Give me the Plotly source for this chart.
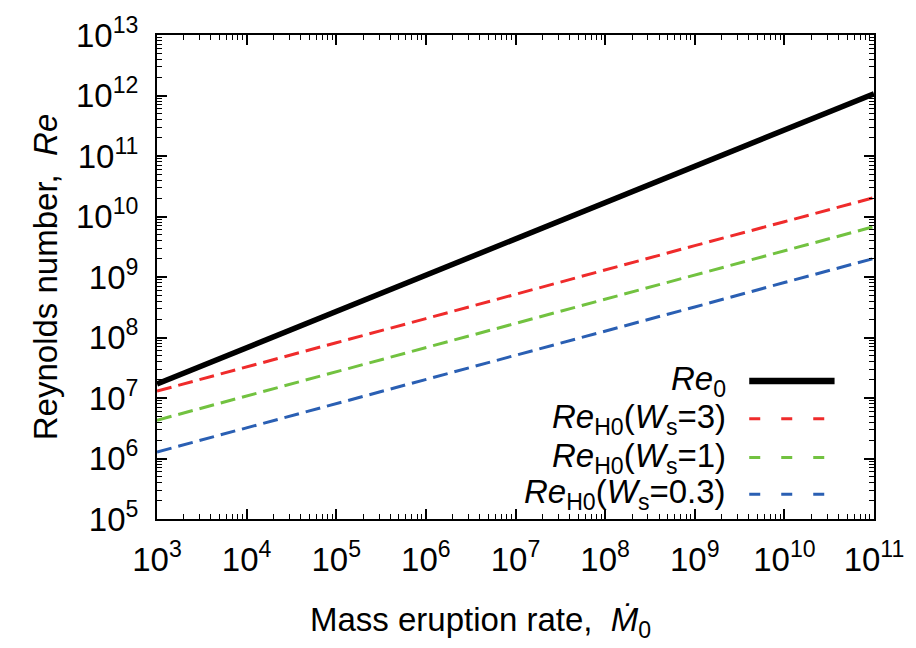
import numpy as np
import plotly.graph_objects as go

# ---- data ----
mass_rate = [1e3, 1e4, 1e5, 1e6, 1e7, 1e8, 1e9, 1e10, 1e11]
re0 = [1.7e7, 6.8e7, 2.7e8, 1.07e9, 4.3e9, 1.7e10, 6.8e10, 2.7e11, 1.07e12]
re_h0_ws3 = [1.3e7, 3.3e7, 8.2e7, 2.05e8, 5.2e8, 1.3e9, 3.3e9, 8.2e9, 2.05e10]
re_h0_ws1 = [4.3e6, 1.08e7, 2.7e7, 6.8e7, 1.7e8, 4.3e8, 1.08e9, 2.7e9, 6.8e9]
re_h0_ws03 = [1.28e6, 3.2e6, 8.1e6, 2.03e7, 5.1e7, 1.28e8, 3.2e8, 8.1e8, 2.03e9]

SUB = '<sub>{}</sub>'
series_names = ["<i>Re</i>" + SUB.format("0"),
                "<i>Re</i>" + SUB.format("H0") + "(<i>W</i>" + SUB.format("s") + "=3)",
                "<i>Re</i>" + SUB.format("H0") + "(<i>W</i>" + SUB.format("s") + "=1)",
                "<i>Re</i>" + SUB.format("H0") + "(<i>W</i>" + SUB.format("s") + "=0.3)"]
series_values = [re0, re_h0_ws3, re_h0_ws1, re_h0_ws03]
series_colors = ["#000000", "#ef2b2b", "#72c240", "#2a5fb3"]
series_widths = [5.5, 3, 3, 3]
series_dash = ["solid", "15px,7px", "15px,7px", "15px,7px"]

x_exps = list(range(3, 12))
y_exps = list(range(5, 14))
x_ticktext = [f"10<sup>{e}</sup>" for e in x_exps]
y_ticktext = [f"10<sup>{e}</sup>" for e in y_exps]

FONT = "Liberation Sans, Arial, sans-serif"

fig = go.Figure()
for name, vals, col, w, d in zip(series_names, series_values, series_colors, series_widths, series_dash):
    fig.add_trace(go.Scatter(x=mass_rate, y=vals, mode="lines", name=name,
                             line=dict(color=col, width=w, dash=d), showlegend=False))

# custom legend (text right-aligned, sample line on the right)
leg_y = [0.285, 0.207, 0.127, 0.051]
leg_dash = ["solid", "11px,21px", "11px,21px", "11px,21px"]
for name, col, w, d, yy in zip(series_names, series_colors, series_widths, leg_dash, leg_y):
    fig.add_annotation(x=0.796, y=yy, xref="paper", yref="paper", text=name,
                       showarrow=False, xanchor="right", yanchor="middle",
                       height=36, valign="middle",
                       font=dict(family=FONT, size=33, color="black"))
    fig.add_shape(type="line", xref="paper", yref="paper", x0=0.826, x1=0.945,
                  y0=yy, y1=yy, line=dict(color=col, width=w + (1 if w > 3 else 0), dash=d))

# x-axis title (placed as annotation to match reference offset)
fig.add_annotation(x=0.451, y=-0.213, xref="paper", yref="paper",
                   text="Mass eruption rate,  <i>Ṁ</i>" + SUB.format("0"),
                   showarrow=False, xanchor="center", yanchor="middle",
                   font=dict(family=FONT, size=33, color="black"))

minor_x = [k * 10 ** e for e in range(3, 11) for k in range(2, 10)]
minor_y = [k * 10 ** e for e in range(5, 13) for k in range(2, 10)]

axis_common = dict(type="log", showgrid=False, zeroline=False, showline=True,
                   linecolor="black", linewidth=2, mirror="allticks",
                   ticks="inside", ticklen=10, tickwidth=1.5, tickcolor="black",
                   tickmode="array", tickfont=dict(family=FONT, size=33, color="black"),
                   ticklabelstandoff=10)

fig.update_xaxes(**axis_common, range=[3, 11], tickvals=[10 ** e for e in x_exps],
                 ticktext=x_ticktext,
                 minor=dict(ticks="inside", ticklen=5, tickwidth=1, tickcolor="black",
                            tickmode="array", tickvals=minor_x))
fig.update_yaxes(**axis_common, range=[5, 13], tickvals=[10 ** e for e in y_exps],
                 ticktext=y_ticktext,
                 minor=dict(ticks="inside", ticklen=5, tickwidth=1, tickcolor="black",
                            tickmode="array", tickvals=minor_y),
                 title=dict(text="Reynolds number,  <i>Re</i>",
                            font=dict(family=FONT, size=33, color="black"), standoff=8))

fig.update_layout(width=916, height=648, margin=dict(l=157, r=36, t=31, b=129),
                  plot_bgcolor="white", paper_bgcolor="white",
                  font=dict(family=FONT, color="black"))

fig.write_html("out.html")
